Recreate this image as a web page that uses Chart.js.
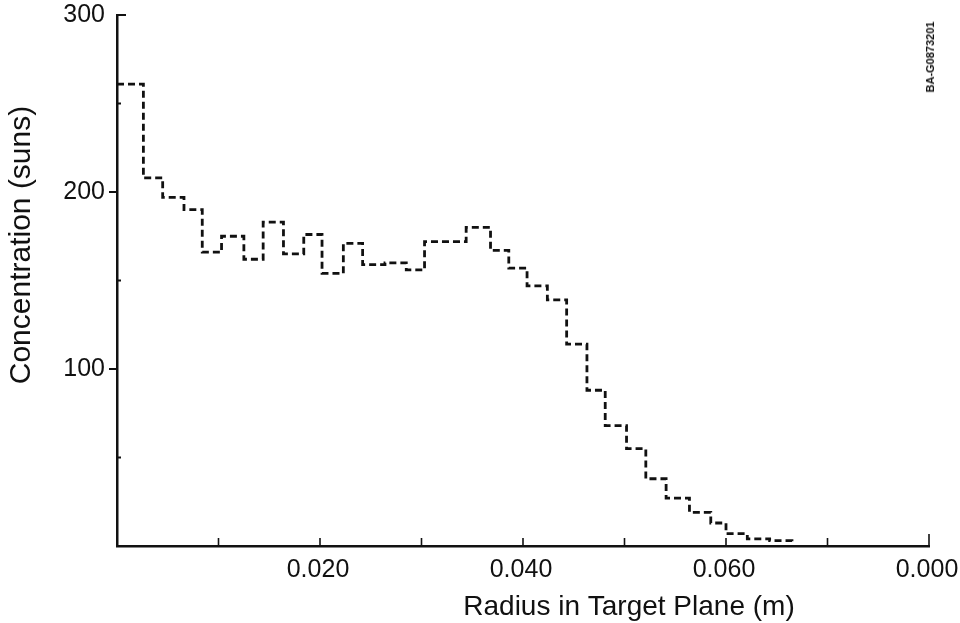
<!DOCTYPE html>
<html>
<head>
<meta charset="utf-8">
<script src="https://cdn.jsdelivr.net/npm/chart.js@4.4.1/dist/chart.umd.min.js"></script>
<style>
  html, body { margin: 0; padding: 0; background: #fff; }
  #wrap { position: relative; width: 960px; height: 623px; }
  #stamp {
    position: absolute; left: 930px; top: 57px;
    transform: translate(-50%, -50%) rotate(-90deg);
    font: bold 11px "Liberation Sans", Arial, sans-serif; color: #111; white-space: nowrap;
  }
</style>
</head>
<body>
<div id="wrap">
  <canvas id="c" width="960" height="623"></canvas>
  <div id="stamp">BA-G0873201</div>
</div>
<script>
const binEdges = [0.0000, 0.0026, 0.0045, 0.0066, 0.0084, 0.0103, 0.0125, 0.0144, 0.0164, 0.0184,
                  0.0202, 0.0223, 0.0242, 0.0264, 0.0285, 0.0303, 0.0324, 0.0344, 0.0368, 0.0386,
                  0.0404, 0.0424, 0.0443, 0.0463, 0.0481, 0.0502, 0.0521, 0.0541, 0.0564, 0.0585,
                  0.0600, 0.0621, 0.0643, 0.0665];
const concentration = [261, 208, 197, 190, 166, 175, 162, 183, 165, 176,
                       154, 171, 159, 160, 156, 172, 172, 180, 167, 157,
                       147, 139, 114, 88, 68, 55, 38, 27, 19, 13,
                       7, 4, 3, 0];

const xTickValues = [0.02, 0.04, 0.06, 0.08];
const xTickText = ['0.020', '0.040', '0.060', '0.000'];
const yTickValues = [100, 200, 300];
const yTickText = ['100', '200', '300'];
const xTitle = 'Radius in Target Plane (m)';
const yTitle = 'Concentration (suns)';

const points = binEdges.map((x, i) => ({ x, y: concentration[i] }));

const FONT = '"Liberation Sans", Arial, sans-serif';

// tick marks and axis titles drawn the way the scanned figure has them
const axisDecor = {
    id: 'axisDecor',
    afterDraw(chart) {
        const { ctx, scales: { x, y } } = chart;
        ctx.save();
        ctx.strokeStyle = '#111';
        ctx.lineWidth = 1.6;
        // x: short marks pointing up into the plot
        for (let v = 1; v <= 8; v++) {
            const px = x.getPixelForValue(v / 100);
            const len = v === 8 ? 12 : 8;
            ctx.beginPath();
            ctx.moveTo(px, y.bottom);
            ctx.lineTo(px, y.bottom - len);
            ctx.stroke();
        }
        // y: labelled ticks outside (300 inside), minor ones short inside
        ctx.lineWidth = 2;
        [[300, 0, 9], [200, -8, 0], [100, -8, 0], [250, 1, 4], [150, 1, 4], [50, 1, 4]].forEach(([v, a, b]) => {
            const py = y.getPixelForValue(v);
            ctx.beginPath();
            ctx.moveTo(x.left + a, py);
            ctx.lineTo(x.left + b, py);
            ctx.stroke();
        });
        ctx.fillStyle = '#111';
        ctx.textAlign = 'center';
        ctx.textBaseline = 'middle';
        ctx.font = '28px ' + FONT;
        ctx.fillText(xTitle, 629, 607);
        ctx.translate(22, 245);
        ctx.rotate(-Math.PI / 2);
        ctx.font = '30px ' + FONT;
        ctx.fillText(yTitle, 0, 0);
        ctx.restore();
    }
};

new Chart(document.getElementById('c'), {
    type: 'line',
    data: {
        datasets: [{
            data: points,
            stepped: true,
            borderColor: '#111',
            borderWidth: 2.8,
            borderDash: [7, 4],
            pointRadius: 0,
            fill: false
        }]
    },
    options: {
        responsive: false,
        animation: false,
        layout: { padding: { top: 15, right: 31, left: 0, bottom: 0 } },
        plugins: { legend: { display: false }, tooltip: { enabled: false } },
        scales: {
            x: {
                type: 'linear',
                min: 0, max: 0.08,
                afterFit: s => { s.height = 77; s.paddingLeft = 0; s.paddingRight = 0; },
                border: { color: '#111', width: 2.5 },
                grid: { display: false, drawTicks: false },
                ticks: {
                    stepSize: 0.01,
                    autoSkip: false,
                    maxRotation: 0,
                    padding: 9,
                    labelOffset: -2,
                    color: '#111',
                    font: { family: FONT, size: 25 },
                    callback: v => {
                        const i = xTickValues.findIndex(t => Math.abs(t - v) < 1e-6);
                        return i >= 0 ? xTickText[i] : '';
                    }
                }
            },
            y: {
                min: 0, max: 300,
                afterFit: s => { s.width = 117; s.paddingTop = 0; s.paddingBottom = 0; },
                border: { color: '#111', width: 2.5 },
                grid: { display: false, drawTicks: false },
                ticks: {
                    stepSize: 50,
                    padding: 12,
                    color: '#111',
                    font: { family: FONT, size: 25 },
                    callback: v => {
                        const i = yTickValues.indexOf(v);
                        return i >= 0 ? yTickText[i] : '';
                    }
                }
            }
        }
    },
    plugins: [axisDecor]
});
</script>
</body>
</html>
